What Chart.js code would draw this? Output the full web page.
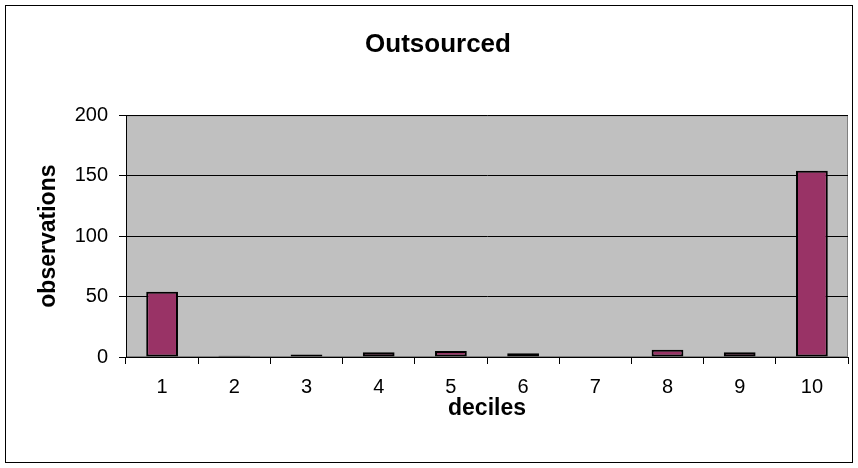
<!DOCTYPE html>
<html>
<head>
<meta charset="utf-8">
<script src="https://cdn.jsdelivr.net/npm/chart.js@4/dist/chart.umd.min.js"></script>
<style>
  html, body { margin: 0; padding: 0; background: #fff; }
  canvas { display: block; }
</style>
</head>
<body>
<canvas id="outsourced" width="858" height="468"></canvas>
<script>
const deciles = ['1', '2', '3', '4', '5', '6', '7', '8', '9', '10'];
const observations = [54, 1, 2, 4, 5, 3, 0, 6, 4, 154];
const yTicks = [0, 50, 100, 150, 200];

const fontFamily = "'Liberation Sans', Arial, sans-serif";

// grey plot area + frame round the whole chart, like the spreadsheet export
const frame = {
  id: 'frame',
  afterLayout(chart) {
    // title sits a bit right of the canvas centre in the original
    if (chart.titleBlock) chart.titleBlock.left += 28;
  },
  beforeDraw(chart) {
    const { ctx, chartArea: a } = chart;
    ctx.save();
    ctx.fillStyle = '#fff';
    ctx.fillRect(0, 0, chart.width, chart.height);
    ctx.strokeStyle = '#000';
    ctx.lineWidth = 1;
    ctx.strokeRect(5.5, 5.5, 847, 457);
    ctx.fillStyle = '#c0c0c0';
    ctx.fillRect(a.left, a.top, a.right - a.left, a.bottom - a.top);
    ctx.strokeStyle = '#808080';
    ctx.strokeRect(a.left + 0.5, a.top + 0.5, a.right - a.left - 1, a.bottom - a.top - 1);
    ctx.restore();
  }
};

let data = {
  labels: deciles,
  datasets: [
    {
      data: observations,
      backgroundColor: '#993366',
      borderColor: '#000',
      borderWidth: 2,
      borderSkipped: false,
      barPercentage: 0.44,
      categoryPercentage: 1
    }
  ]
};

let options = {
  responsive: false,
  animation: false,
  devicePixelRatio: 1,
  layout: { padding: { left: 0, right: 10, top: 0, bottom: 0 } },
  plugins: {
    legend: { display: false },
    tooltip: { enabled: false },
    title: {
      display: true,
      text: 'Outsourced',
      color: '#000',
      font: { family: fontFamily, size: 26, weight: 'bold' },
      padding: { top: 29, bottom: 55 }
    }
  },
  scales: {
    x: {
      grid: { drawOnChartArea: false, offset: true, color: '#000', tickLength: 7 },
      border: { color: '#000', width: 1 },
      ticks: { color: '#000', font: { family: fontFamily, size: 20 }, padding: 11, maxRotation: 0 },
      title: {
        display: true,
        text: 'deciles',
        color: '#000',
        font: { family: fontFamily, size: 23, weight: 'bold' },
        padding: { top: 0, bottom: 46 }
      },
      afterFit(scale) { scale.height = 111; }
    },
    y: {
      min: 0,
      max: 200,
      afterBuildTicks(scale) { scale.ticks = yTicks.map(v => ({ value: v })); },
      grid: { color: '#000', tickLength: 7 },
      border: { color: '#000', width: 1 },
      ticks: { color: '#000', font: { family: fontFamily, size: 20 }, padding: 11 },
      title: {
        display: true,
        text: 'observations',
        color: '#000',
        font: { family: fontFamily, size: 23, weight: 'bold' },
        padding: { top: 35, bottom: 0 }
      },
      afterFit(scale) { scale.width = 126; }
    }
  }
};

new Chart('outsourced', { type: 'bar', data, options, plugins: [frame] });
</script>
</body>
</html>
